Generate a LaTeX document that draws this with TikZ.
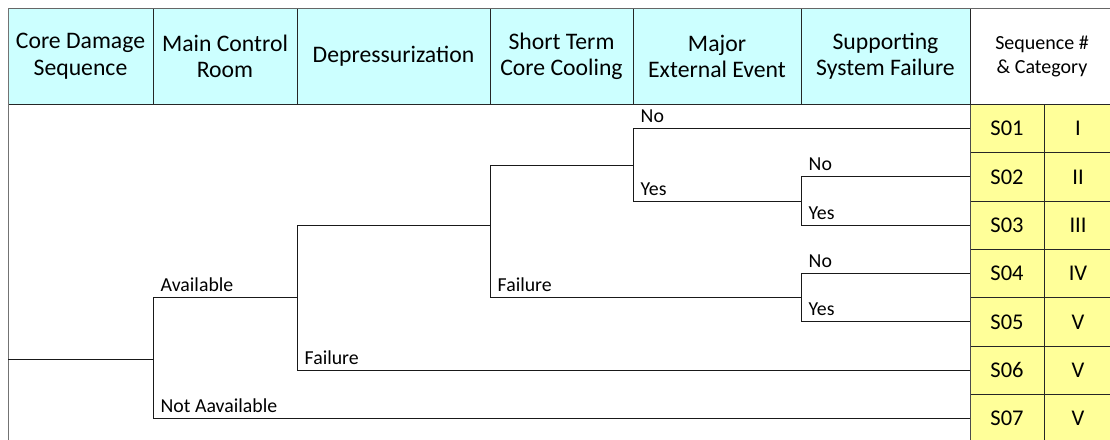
\documentclass[tikz,border=0pt]{standalone}
\usepackage{fontspec}
\setmainfont{Carlito}
\definecolor{hdrcyan}{HTML}{CCFFFF}
\definecolor{cellyel}{HTML}{FFFF99}
\begin{document}
\begin{tikzpicture}[x=1pt,y=-1pt,
  hdr/.style={draw=black!85, line width=0.8pt, fill=hdrcyan, inner sep=0pt, align=center,
    minimum height=96.5pt, font=\fontsize{23.7}{26.5}\selectfont},
  seqcell/.style={draw=black!85, line width=0.9pt, fill=cellyel, inner sep=0pt,
    minimum height=48.3pt, font=\fontsize{22.5}{24}\selectfont},
  br/.style={draw=black!90, line width=1pt},
  lbl/.style={anchor=base west, inner sep=0pt, xshift=7.5pt, yshift=6pt, font=\fontsize{19.8}{22}\selectfont}]
\useasboundingbox (0,0) rectangle (1110,439);
\fill[white] (0,0) rectangle (1110,439);
% header
\node[hdr, minimum width=145pt] (h1) at (80.5,56.25) {Core Damage\\Sequence};
\node[hdr, minimum width=144pt] (h2) at (225,56.25) {Main Control\\Room};
\node[hdr, minimum width=193pt] (h3) at (393.5,56.25) {Depressurization};
\node[hdr, minimum width=143pt] (h4) at (561.5,56.25) {Short Term\\Core Cooling};
\node[hdr, minimum width=168pt] (h5) at (717,56.25) {Major\\External Event};
\node[hdr, minimum width=169pt] (h6) at (885.5,56.25) {Supporting\\System Failure};
\node[hdr, fill=white, draw=none, minimum width=140pt, font=\fontsize{20}{23.5}\selectfont] (h7) at (1042,56.25) {Sequence \#\\\& Category};
\draw[black!60, line width=0.8pt] (8,8) -- (1112,8);
\draw[black!60, line width=0.8pt] (970,104.5) -- (1112,104.5);
\draw[black!55, line width=1pt] (8,8) -- (8,442);
% sequence table
\foreach \i/\c in {1/I,2/II,3/III,4/IV,5/V,6/V,7/V}{
  \node[seqcell, minimum width=74pt] (s\i) at (1007,{104.5+48.3*(\i-0.5)}) {S0\i};
  \node[seqcell, minimum width=68pt] (c\i) at (1078,{104.5+48.3*(\i-0.5)}) {\c};
}
\draw[black!70, line width=1.6pt] (970.5,104.5) -- (970.5,442);
% tree coordinates
\coordinate (r0) at (8,359);
\coordinate (r1) at (153,359);
\coordinate (ma) at (153,297);
\coordinate (mn) at (153,418.45);
\coordinate (ma2) at (297,297);
\coordinate (d1) at (297,225.25);
\coordinate (d2) at (297,370.15);
\coordinate (d1e) at (490,225.25);
\coordinate (k1) at (490,165);
\coordinate (k2) at (490,297);
\coordinate (k1e) at (633,165);
\coordinate (k2e) at (801,297);
\coordinate (e1) at (633,128.65);
\coordinate (e2) at (633,201);
\coordinate (e2e) at (801,201);
\coordinate (f1) at (801,176.95);
\coordinate (f2) at (801,225.25);
\coordinate (g1) at (801,273.55);
\coordinate (g2) at (801,321.85);
% branches
\draw[br] (r0) -- (r1);
\draw[br] (ma) -- (mn);
\draw[br] (ma) -- (ma2);
\draw[br] (mn) -- (mn -| s7.west);
\draw[br] (d1) -- (d2);
\draw[br] (d1) -- (d1e);
\draw[br] (d2) -- (d2 -| s6.west);
\draw[br] (k1) -- (k2);
\draw[br] (k1) -- (k1e);
\draw[br] (k2) -- (k2e);
\draw[br] (e1) -- (e2);
\draw[br] (e1) -- (e1 -| s1.west);
\draw[br] (e2) -- (e2e);
\draw[br] (f1) -- (f2);
\draw[br] (f1) -- (f1 -| s2.west);
\draw[br] (f2) -- (f2 -| s3.west);
\draw[br] (g1) -- (g2);
\draw[br] (g1) -- (g1 -| s4.west);
\draw[br] (g2) -- (g2 -| s5.west);
% labels
\node[lbl] (la) at (ma) {Available};
\node[lbl] (ln) at (mn) {Not Aavailable};
\node[lbl] (lf1) at (d2) {Failure};
\node[lbl] (lf2) at (k2) {Failure};
\node[lbl] (ln1) at (e1) {No};
\node[lbl] (ly1) at (e2) {Yes};
\node[lbl] (ln2) at (f1) {No};
\node[lbl] (ly2) at (f2) {Yes};
\node[lbl] (ln3) at (g1) {No};
\node[lbl] (ly3) at (g2) {Yes};
\end{tikzpicture}
\end{document}
